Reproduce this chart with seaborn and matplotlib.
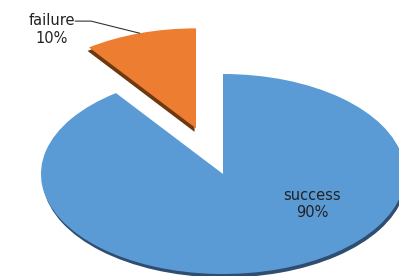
import numpy as np
import matplotlib
matplotlib.use('Agg')
import matplotlib.pyplot as plt
import seaborn as sns

# data
categories = ['success', 'failure']
shares = [90, 10]
explode = [0, 0.48]
colors = ['#5B9BD5', '#ED7D31']
shadow_colors = ['#2E4D70', '#6E3810']

sns.set_theme(style='white')
plt.rcParams['font.family'] = ['DejaVu Sans']

fig = plt.figure(figsize=(3.99, 2.76), dpi=100)
ax = fig.add_axes([0, 0, 1, 1])

# shadow layer first, each wedge nudged down a little
shadows, _ = ax.pie(shares, explode=explode, colors=shadow_colors, startangle=90,
                    counterclock=False, wedgeprops=dict(linewidth=0))
for sw, dx in zip(shadows, [0.008, -0.008]):
    cx, cy = sw.center
    sw.set_center((cx + dx, cy - 0.035))

wedges, _ = ax.pie(shares, explode=explode, colors=colors, startangle=90,
                   counterclock=False, wedgeprops=dict(linewidth=0))

# tilted look: stretch the unit circle into a flat ellipse
ax.set_aspect('auto')
ax.set_xlim(-1.225, 0.967)
ax.set_ylim(-1.02, 1.74)
ax.axis('off')

# label for the small slice with a leader line to its arc
w = wedges[1]
mid = np.deg2rad((w.theta1 + w.theta2) / 2)
tip = (w.center[0] + w.r * np.cos(mid), w.center[1] + w.r * np.sin(mid))
pct_fail = shares[1] / sum(shares) * 100
ax.annotate(f'{categories[1]}\n{pct_fail:.0f}%', xy=tip,
            xytext=(0.13, 0.893), textcoords='axes fraction',
            ha='center', va='center', multialignment='center',
            fontsize=10.5, color='#222222', linespacing=1.2,
            arrowprops=dict(arrowstyle='-', color='#333333', lw=0.8,
                            patchA=None, shrinkA=0, shrinkB=0,
                            relpos=(1.0, 0.76),
                            connectionstyle='angle,angleA=0,angleB=-14,rad=0'))

pct_succ = shares[0] / sum(shares) * 100
ax.text(0.782, 0.26, f'{categories[0]}\n{pct_succ:.0f}%', transform=ax.transAxes,
        ha='center', va='center', multialignment='center',
        fontsize=10.5, color='#222222', linespacing=1.2)

fig.savefig('out.png', dpi=100)
